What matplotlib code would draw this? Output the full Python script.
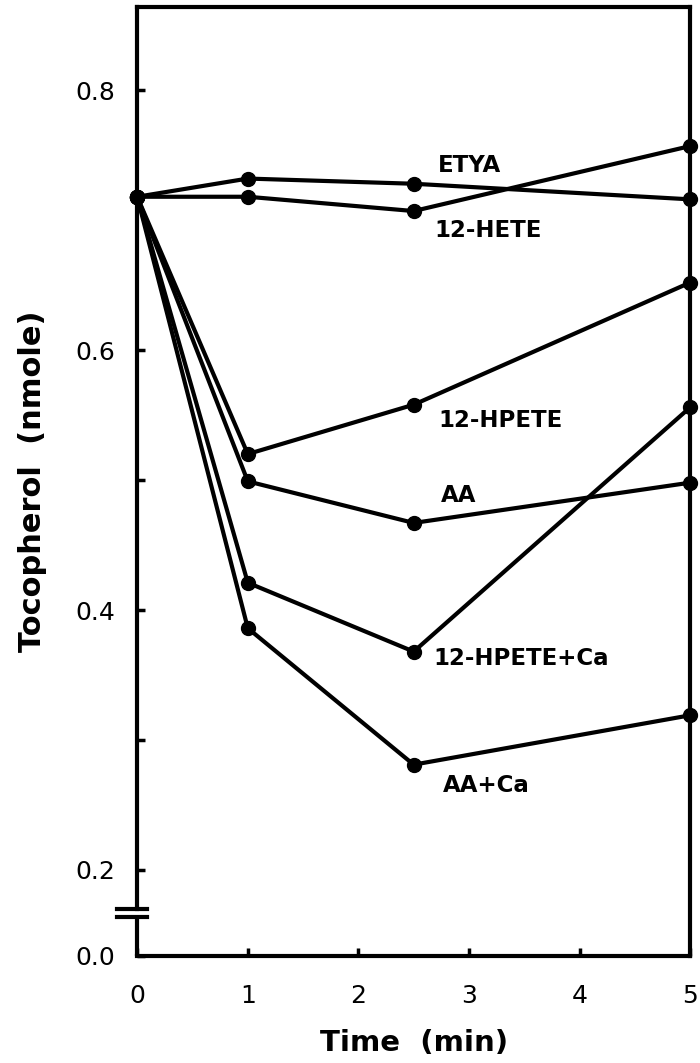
import numpy as np
import matplotlib
matplotlib.use("Agg")
import matplotlib.pyplot as plt
import matplotlib.transforms as mtransforms

# ---- data ----
time_min = [0, 1, 2.5, 5]
etya = [0.718, 0.732, 0.728, 0.716]
hete12 = [0.718, 0.718, 0.707, 0.757]
hpete12 = [0.718, 0.520, 0.558, 0.652]
aa = [0.718, 0.499, 0.467, 0.498]
hpete12_ca = [0.718, 0.421, 0.368, 0.556]
aa_ca = [0.718, 0.386, 0.281, 0.319]
series_names = ["ETYA", "12-HETE", "12-HPETE", "AA", "12-HPETE+Ca", "AA+Ca"]
series_values = [etya, hete12, hpete12, aa, hpete12_ca, aa_ca]
x_ticks = [0, 1, 2, 3, 4, 5]
y_major = [0.0, 0.2, 0.4, 0.6, 0.8]
y_major_labels = ["0.0", "0.2", "0.4", "0.6", "0.8"]
y_minor = [0.3, 0.5]

# ---- layout (label anchor positions, left edge) ----
label_pos = [(2.72, 0.742), (2.69, 0.692), (2.72, 0.546),
             (2.75, 0.488), (2.68, 0.363), (2.76, 0.265)]

BREAK = 0.2
SQUEEZE = 0.331


def fwd(v):
    v = np.asarray(v, dtype=float)
    return np.where(v >= BREAK, v, BREAK - (BREAK - v) * SQUEEZE)


def inv(u):
    u = np.asarray(u, dtype=float)
    return np.where(u >= BREAK, u, BREAK - (BREAK - u) / SQUEEZE)


fig = plt.figure(figsize=(7.0, 10.63), dpi=100)
ax = fig.add_axes([0.196, 0.1007, 0.790, 0.8927])
ax.set_yscale('function', functions=(fwd, inv))
ax.set_xlim(0, 5)
ax.set_ylim(0.0, 0.864)

for vals in series_values:
    ax.plot(time_min, vals, color='black', lw=3, marker='o', ms=10,
            clip_on=False, zorder=3)

for name, (lx, ly) in zip(series_names, label_pos):
    ax.text(lx, ly, name, ha='left', va='center', fontsize=16.5,
            fontweight='bold', family='DejaVu Sans')

# spines
for s in ['top', 'right', 'bottom', 'left']:
    ax.spines[s].set_linewidth(3)
b_lo, b_hi = 0.0906, 0.109
ax.spines['left'].set_bounds(b_hi, 0.864)
ax.plot([0, 0], [0, b_lo], color='black', lw=3, clip_on=False,
        solid_capstyle='butt')
trans = mtransforms.blended_transform_factory(ax.transAxes, ax.transData)
for yb in (b_lo, b_hi):
    ax.plot([-0.036, 0.018], [yb, yb], color='black', lw=3,
            transform=trans, clip_on=False)

ax.set_xticks(x_ticks)
ax.set_xticklabels([str(t) for t in x_ticks])
ax.set_yticks(y_major)
ax.set_yticklabels(y_major_labels)
ax.set_yticks(y_minor, minor=True)
ax.tick_params(axis='both', which='both', direction='in', width=2.5,
               labelsize=18, colors='black')
ax.tick_params(axis='y', which='major', length=6, pad=16)
ax.tick_params(axis='y', which='minor', length=6)
ax.tick_params(axis='x', which='major', length=6, pad=20)
ax.tick_params(right=False, top=False)

ax.set_xlabel('Time  (min)', fontsize=21, fontweight='bold', labelpad=15)
ax.set_ylabel('Tocopherol  (nmole)', fontsize=22, fontweight='bold',
              labelpad=20)

fig.savefig('out.png', dpi=100)
